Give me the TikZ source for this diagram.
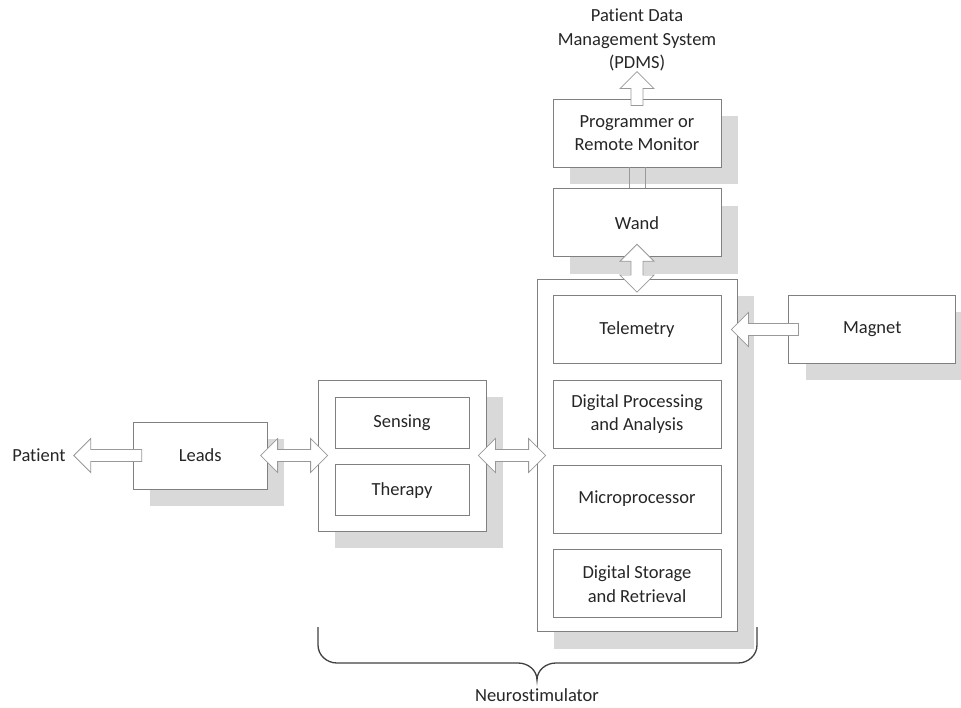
\documentclass[tikz,border=0pt]{standalone}
\usepackage{fontspec}
\setmainfont{Carlito}[Ligatures={NoCommon}]
\usetikzlibrary{positioning,shadows,calc}

% block arrow from tail #1 to tip #2
\newcommand{\fatarrow}[2]{%
  \path (#1) coordinate (ta) (#2) coordinate (tb);
  \path ($(tb)!17pt!(ta)$) coordinate (tc);
  \draw[blockarrow] ($(ta)!6pt!90:(tb)$) -- ($(tc)!6pt!90:(tb)$) -- ($(tc)!17pt!90:(tb)$)
    -- (tb) -- ($(tc)!17pt!-90:(tb)$) -- ($(tc)!6pt!-90:(tb)$) -- ($(ta)!6pt!-90:(tb)$) -- cycle;}
% block arrow with a head at both ends
\newcommand{\fatdarrow}[2]{%
  \path (#1) coordinate (ta) (#2) coordinate (tb);
  \path ($(ta)!17pt!(tb)$) coordinate (tc) ($(tb)!17pt!(ta)$) coordinate (td);
  \draw[blockarrow] (ta) -- ($(tc)!17pt!90:(tb)$) -- ($(tc)!6pt!90:(tb)$) -- ($(td)!6pt!90:(tb)$)
    -- ($(td)!17pt!90:(tb)$) -- (tb) -- ($(td)!17pt!-90:(tb)$) -- ($(td)!6pt!-90:(tb)$)
    -- ($(tc)!6pt!-90:(tb)$) -- ($(tc)!17pt!-90:(tb)$) -- cycle;}

\begin{document}
\begin{tikzpicture}[%
        x=1pt, y=1pt,
        node distance=16pt,
        every node/.style={font=\fontsize{18.5}{23.5}\selectfont, text=black!85},
        box/.style={%
          draw=black!50,
          fill=white,
          line width=0.8pt,
          minimum width=168pt,
          minimum height=68pt,
          inner sep=0pt,
          align=center
        },
        smallbox/.style={box, minimum width=134pt, minimum height=51pt},
        shadowed/.style={drop shadow={shadow xshift=17pt, shadow yshift=-17pt, fill=black!15, opacity=1}},
        blockarrow/.style={draw=black!40, fill=white, line width=0.8pt, line join=miter},
        linkline/.style={draw=black!40, line width=0.8pt},
        brace/.style={draw=black!75, line width=1.3pt}
      ]
      \useasboundingbox (0,0) rectangle (961,707);

      \node[box, shadowed] (prog) at (637,574) {Programmer or\\Remote Monitor};
      \node[box, shadowed] (wand) [below=21pt of prog] {Wand};
      \node[box, shadowed, minimum width=200pt, minimum height=352pt] (neuro) at (637,251.5) {};
      \node[box] (tele) [below=16pt of neuro.north] {Telemetry};
      \node[box] (dpa) [below=of tele] {Digital Processing\\and Analysis};
      \node[box] (micro) [below=of dpa] {Microprocessor};
      \node[box] (dsr) [below=of micro] {Digital Storage\\and Retrieval};
      \node[box, shadowed, minimum width=167pt] (magnet) [right=67pt of tele] {Magnet};
      \node[box, shadowed, minimum height=151pt] (sens) at (402,251.5) {};
      \node[smallbox] (sensing) [below=17pt of sens.north] {Sensing};
      \node[smallbox] (therapy) [below=of sensing] {Therapy};
      \node[box, shadowed, minimum width=134pt, minimum height=67pt] (leads) [left=50pt of sens] {Leads};
      \node[inner sep=0pt] (patient) [left=67pt of leads] {Patient};
      \node[align=center] (pdms) at (637,667) {Patient Data\\Management System\\(PDMS)};
      \node (nslabel) at (537,12) {Neurostimulator};

      \draw[linkline] ([xshift=-8pt]prog.south) -- ([xshift=-8pt]wand.north);
      \draw[linkline] ([xshift=8pt]prog.south) -- ([xshift=8pt]wand.north);

      \fatarrow{[yshift=-7pt]prog.north}{[yshift=27pt]prog.north}
      \fatdarrow{[yshift=13pt]wand.south}{[yshift=-13pt]neuro.north}
      \fatarrow{[xshift=10pt]magnet.west}{[xshift=10pt]tele.east}
      \fatdarrow{[xshift=-8pt]sens.east}{[xshift=9pt]neuro.west}
      \fatdarrow{[xshift=-7pt]leads.east}{[xshift=10pt]sens.west}
      \fatarrow{[xshift=9pt]leads.west}{[xshift=8pt]patient.east}

      \draw[brace] (318,80) -- (318,62) to[out=-90,in=180] (337,44) -- (518,44)
        to[out=0,in=90] (537,27) to[out=90,in=180] (556,44) -- (738,44)
        to[out=0,in=-90] (757,62) -- (757,80);
\end{tikzpicture}
\end{document}
